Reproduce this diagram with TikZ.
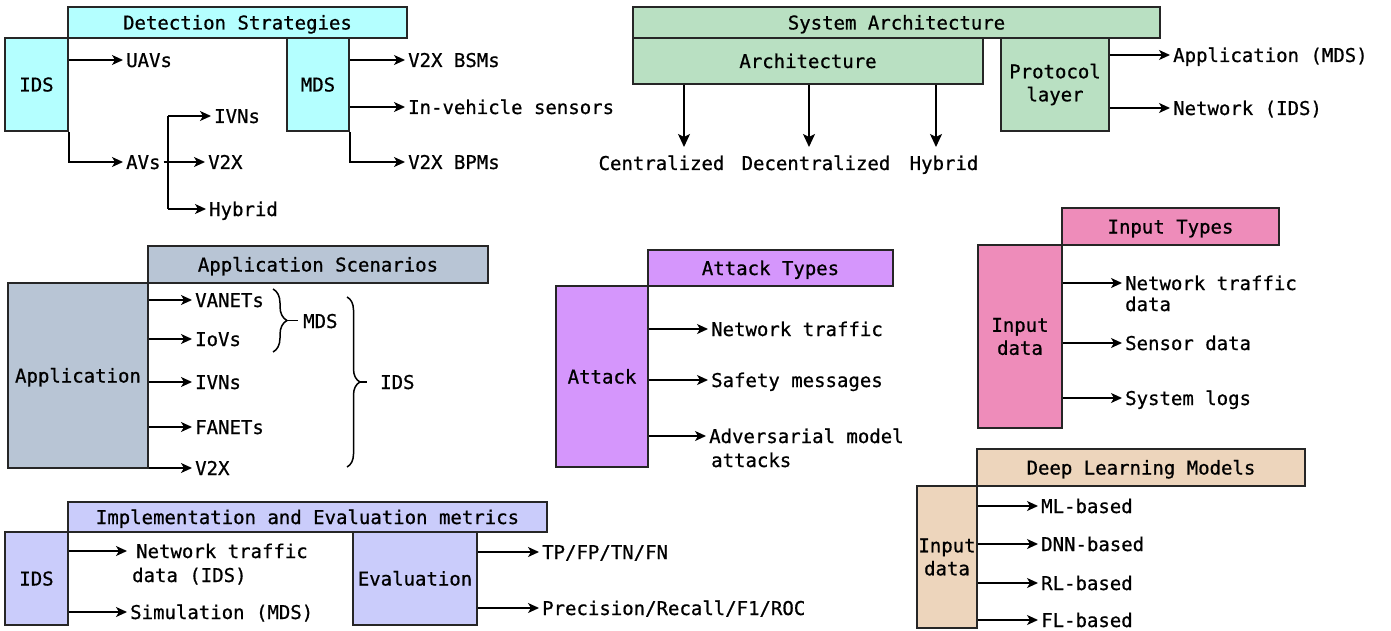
\documentclass[tikz,border=0pt]{standalone}
\usepackage{fontspec}
\setmainfont{DejaVu Sans Mono}[FakeBold=0.7]
\usetikzlibrary{arrows.meta,decorations.pathreplacing}
\definecolor{cDet}{HTML}{B4FFFF}
\definecolor{cSys}{HTML}{B9E0C2}
\definecolor{cApp}{HTML}{B8C5D5}
\definecolor{cAtk}{HTML}{D596FC}
\definecolor{cInp}{HTML}{EE8CBA}
\definecolor{cDL}{HTML}{EDD5BC}
\definecolor{cImp}{HTML}{CACCFB}
\begin{document}
\begin{tikzpicture}[x=1pt,y=-1pt, font=\fontsize{19}{23}\selectfont,
 box/.style={draw=black!85, line width=1.6pt, inner sep=0pt, align=center},
 one/.style={text height=14pt, text depth=0pt},
 lab/.style={anchor=west, inner xsep=3pt, inner ysep=0pt, text height=14pt, text depth=0pt},
 arr/.style={line width=1.5pt, -{Stealth[length=11pt,width=10pt,inset=3pt]}},
 darr/.style={line width=1.5pt, -{Stealth[length=13pt,width=12pt,inset=3pt]}},
 ln/.style={line width=1.5pt},
 brc/.style={line width=1.5pt, decorate, decoration={brace, amplitude=#1}}
]
\fill[white] (0,0) rectangle (1391,631);
\useasboundingbox (0,0) rectangle (1391,631);

% ---------------- Detection Strategies ----------------
\node[box, one, fill=cDet, minimum width=339pt, minimum height=31pt] (dethdr) at (237.5,22.5) {Detection Strategies};
\node[box, one, fill=cDet, minimum width=63pt, minimum height=93pt] (dids) at (36.5,84.5) {IDS};
\node[box, one, fill=cDet, minimum width=62pt, minimum height=93pt] (dmds) at (318,84.5) {MDS};
\node[lab] (uavs) at (123,60) {UAVs};
\node[lab] (avs) at (123,162) {AVs};
\node[lab] (ivns) at (211,116) {IVNs};
\node[lab] (v2xa) at (205,162) {V2X};
\node[lab] (hyb) at (206,209) {Hybrid};
\coordinate (avj) at (168,162);
\draw[arr] (dids.east |- uavs) -- (uavs.west);
\draw[arr] (dids.south east) |- (avs.west);
\draw[arr] (avs.east) -- (v2xa.west);
\draw[ln] (avj |- ivns) -- (avj |- hyb);
\draw[arr] (avj |- ivns) -- (ivns.west);
\draw[arr] (avj |- hyb) -- (hyb.west);
\node[lab] (bsm) at (405,60) {V2X BSMs};
\node[lab] (ivs) at (405,107) {In-vehicle sensors};
\node[lab] (bpm) at (405,162) {V2X BPMs};
\draw[arr] (dmds.east |- bsm) -- (bsm.west);
\draw[arr] (dmds.east |- ivs) -- (ivs.west);
\draw[arr] (dmds.south east) |- (bpm.west);

% ---------------- System Architecture ----------------
\node[box, one, fill=cSys, minimum width=527pt, minimum height=31pt] (syshdr) at (896.5,22.5) {System Architecture};
\node[box, one, fill=cSys, minimum width=350pt, minimum height=46pt] (arch) at (808,61) {Architecture};
\node[box, fill=cSys, minimum width=108pt, minimum height=93pt] (proto) at (1055,84.5) {Protocol\\layer};
\node[lab, anchor=center] (cen) at (661.5,163) {Centralized};
\node[lab, anchor=center] (dec) at (816,163) {Decentralized};
\node[lab, anchor=center] (hyb2) at (944,163) {Hybrid};
\coordinate (t1) at (684,147);
\coordinate (t2) at (809,147);
\coordinate (t3) at (936,147);
\draw[darr] (arch.south -| t1) -- (t1);
\draw[darr] (arch.south -| t2) -- (t2);
\draw[darr] (arch.south -| t3) -- (t3);
\node[lab] (appm) at (1170,55) {Application (MDS)};
\node[lab] (netw) at (1170,108) {Network (IDS)};
\draw[arr] (proto.east |- appm) -- (appm.west);
\draw[arr] (proto.east |- netw) -- (netw.west);

% ---------------- Application Scenarios ----------------
\node[box, one, fill=cApp, minimum width=340pt, minimum height=37pt] (apphdr) at (318,264.5) {Application Scenarios};
\node[box, one, fill=cApp, minimum width=140pt, minimum height=185pt] (app) at (78,375.5) {Application};
\node[lab] (vanets) at (192,300) {VANETs};
\node[lab] (iovs) at (192,339) {IoVs};
\node[lab] (ivnsb) at (192,382) {IVNs};
\node[lab] (fanets) at (192,427) {FANETs};
\node[lab] (v2xb) at (192,468) {V2X};
\draw[arr] (app.east |- vanets) -- (vanets.west);
\draw[arr] (app.east |- iovs) -- (iovs.west);
\draw[arr] (app.east |- ivnsb) -- (ivnsb.west);
\draw[arr] (app.east |- fanets) -- (fanets.west);
\draw[arr] (app.east |- v2xb) -- (v2xb.west);
\coordinate (mb1) at (273,289);
\coordinate (mb2) at (273,352);
\draw[brc=14pt] (mb1) -- (mb2);
\draw[ln] (287,320.5) -- (298,320.5);
\node[lab, inner xsep=0pt] (mdsl) at (303,321) {MDS};
\coordinate (ib1) at (347,297);
\coordinate (ib2) at (347,467);
\draw[brc=13pt] (ib1) -- (ib2);
\draw[ln] (360,382) -- (367,382);
\node[lab, inner xsep=0pt] (idsl) at (380,382) {IDS};

% ---------------- Attack Types ----------------
\node[box, one, fill=cAtk, minimum width=245pt, minimum height=36pt] (atkhdr) at (770.5,268) {Attack Types};
\node[box, one, fill=cAtk, minimum width=92pt, minimum height=181pt] (atk) at (602,376.5) {Attack};
\node[lab] (ntraf) at (708,329) {Network traffic};
\node[lab] (safety) at (708,380) {Safety messages};
\node[lab] (adv) at (706,436) {Adversarial model};
\node[lab, inner xsep=0pt] (adv2) at (711,460) {attacks};
\draw[arr] (atk.east |- ntraf) -- (ntraf.west);
\draw[arr] (atk.east |- safety) -- (safety.west);
\draw[arr] (atk.east |- adv) -- (adv.west);

% ---------------- Input Types ----------------
\node[box, one, fill=cInp, minimum width=217pt, minimum height=37pt] (inphdr) at (1170.5,226.5) {Input Types};
\node[box, fill=cInp, minimum width=84pt, minimum height=183pt] (inp) at (1020,336.5) {Input\\data};
\node[lab] (ntd) at (1122,283) {Network traffic};
\node[lab, inner xsep=0pt] (ntd2) at (1125,304) {data};
\node[lab] (sens) at (1122,343) {Sensor data};
\node[lab] (slog) at (1122,398) {System logs};
\draw[arr] (inp.east |- ntd) -- (ntd.west);
\draw[arr] (inp.east |- sens) -- (sens.west);
\draw[arr] (inp.east |- slog) -- (slog.west);

% ---------------- Deep Learning Models ----------------
\node[box, one, fill=cDL, minimum width=328pt, minimum height=37pt] (dlhdr) at (1141,467.5) {Deep Learning Models};
\node[box, fill=cDL, minimum width=60pt, minimum height=142pt] (dl) at (947,557) {Input\\data};
\node[lab] (ml) at (1038,506) {ML-based};
\node[lab] (dnn) at (1038,544) {DNN-based};
\node[lab] (rl) at (1038,583) {RL-based};
\node[lab] (fl) at (1038,620) {FL-based};
\draw[arr] (dl.east |- ml) -- (ml.west);
\draw[arr] (dl.east |- dnn) -- (dnn.west);
\draw[arr] (dl.east |- rl) -- (rl.west);
\draw[arr] (dl.east |- fl) -- (fl.west);

% ---------------- Implementation and Evaluation metrics ----------------
\node[box, one, fill=cImp, minimum width=479pt, minimum height=30pt] (imphdr) at (307.5,517) {Implementation and Evaluation metrics};
\node[box, one, fill=cImp, minimum width=63pt, minimum height=93pt] (iids) at (36.5,578.5) {IDS};
\node[box, one, fill=cImp, minimum width=124pt, minimum height=93pt] (eval) at (415,578.5) {Evaluation};
\node[lab] (ntr) at (133,551) {Network traffic};
\node[lab, inner xsep=0pt] (ntr2) at (132,575) {data (IDS)};
\node[lab] (sim) at (127,612) {Simulation (MDS)};
\draw[arr, shorten >=6pt] (iids.east |- ntr) -- (ntr.west);
\draw[arr] (iids.east |- sim) -- (sim.west);
\node[lab] (tp) at (539,552) {TP/FP/TN/FN};
\node[lab] (prec) at (539,608) {Precision/Recall/F1/ROC};
\draw[arr] (eval.east |- tp) -- (tp.west);
\draw[arr] (eval.east |- prec) -- (prec.west);
\end{tikzpicture}
\end{document}
